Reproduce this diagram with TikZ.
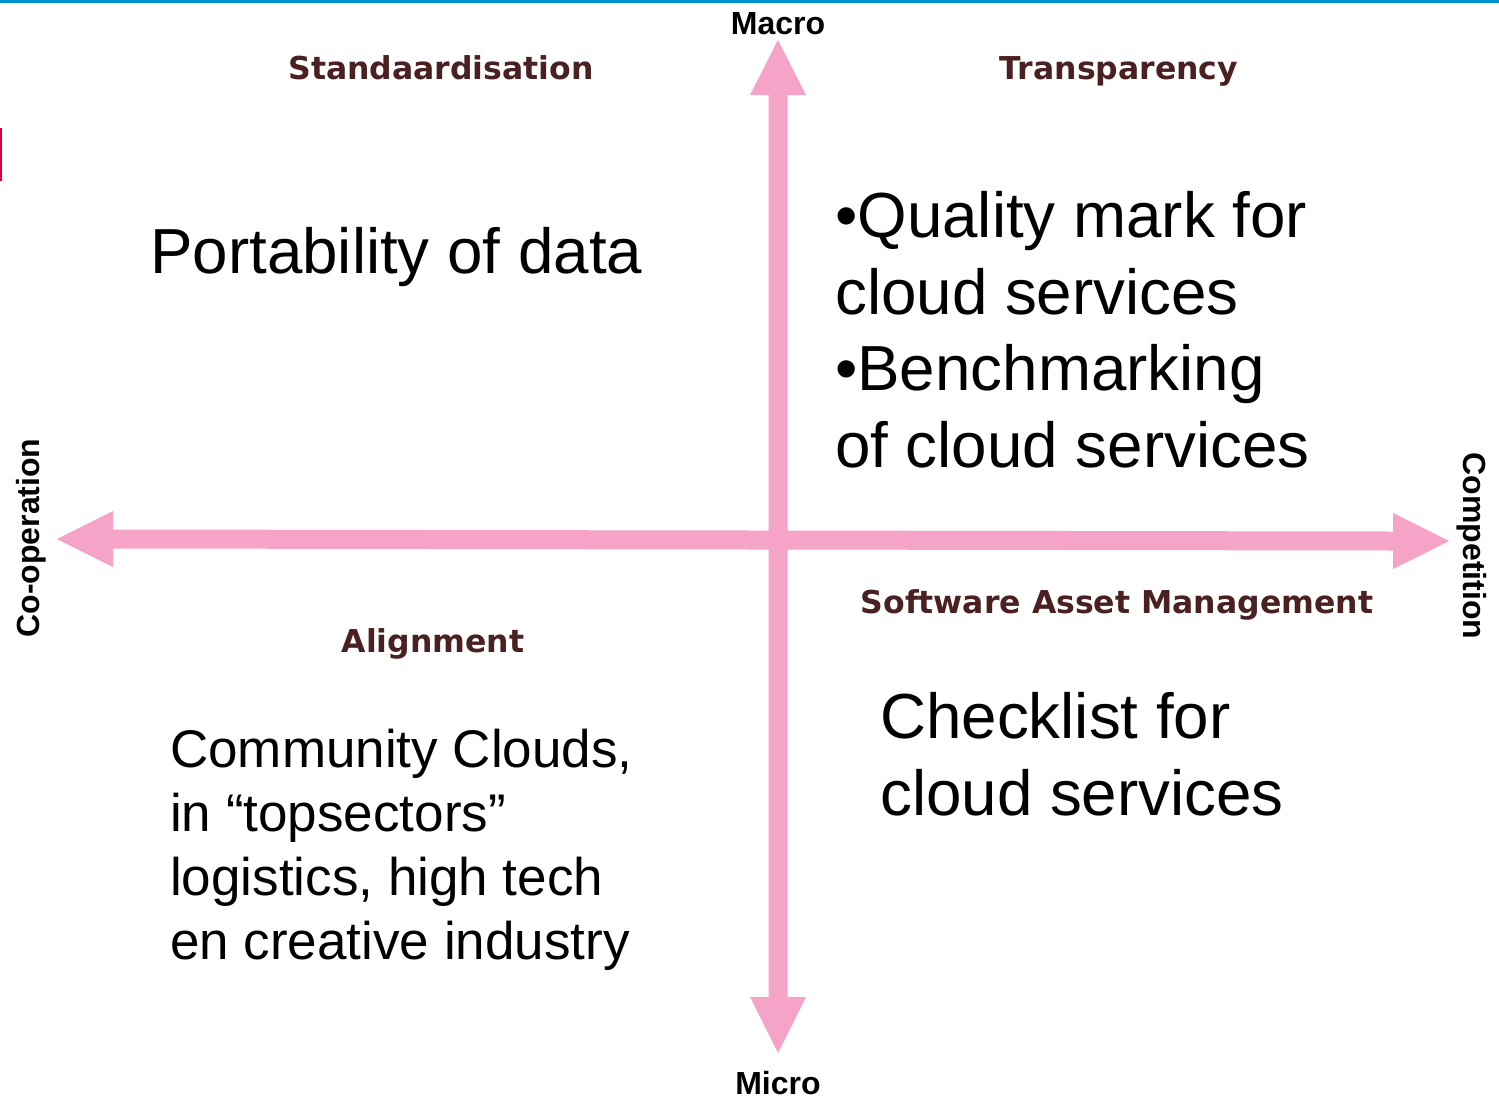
\documentclass[tikz,border=0pt]{standalone}
\usepackage{fontspec}
\setmainfont{Liberation Sans}
\newfontfamily\headfont{DejaVu Sans}
\definecolor{axispink}{RGB}{245,163,199}
\definecolor{headbrown}{RGB}{74,32,32}
\definecolor{topblue}{RGB}{0,146,210}
\definecolor{markred}{RGB}{218,0,60}
\begin{document}
\begin{tikzpicture}[x=1pt,y=-1pt,
  heading/.style={font=\headfont\bfseries\fontsize{31.5}{38}\selectfont, text=headbrown, inner sep=0pt, anchor=base},
  axislabel/.style={font=\bfseries\fontsize{32}{38}\selectfont, inner sep=0pt, anchor=base},
  bigtext/.style={font=\fontsize{63.7}{76.5}\selectfont, align=left, inner sep=0pt, anchor=base west},
  midtext/.style={font=\fontsize{53}{64}\selectfont, align=left, inner sep=0pt, anchor=base west}]
\useasboundingbox (0,0) rectangle (1499,1098);
\fill[white] (0,0) rectangle (1499,1098);
\fill[topblue] (0,0) rectangle (1499,3);
\fill[markred] (0,128) rectangle (2.3,181);
% axes
\coordinate (vtop) at (778,40);
\coordinate (vbot) at (778,1053);
\coordinate (hleft) at (57,539);
\coordinate (hright) at (1449,541);
\fill[axispink] (vtop) -- (806,95) -- (787.5,95) -- (787.5,997) -- (806,997) -- (vbot) -- (750,997) -- (768.5,997) -- (768.5,95) -- (750,95) -- cycle;
\fill[axispink] (hleft) -- (113,511) -- (113,529.5) -- (1393,531.5) -- (1393,513) -- (hright) -- (1393,569) -- (1393,550.5) -- (113,548.5) -- (113,567) -- cycle;
% axis labels
\node[axislabel] (macro) at (778,34) {Macro};
\node[axislabel] (micro) at (778,1094) {Micro};
\node[axislabel, rotate=90] (coop) at (39.5,538) {Co-operation};
\node[axislabel, rotate=-90] (comp) at (1463,546) {Competition};
% headings
\node[heading] (std) at (441,79) {Standaardisation};
\node[heading] (transp) at (1119,79) {Transparency};
\node[heading] (align) at (433,652) {Alignment};
\node[heading] (sam) at (1117,613) {Software Asset Management};
% texts (base anchor = baseline of last line)
\node[bigtext] (port) at (150,273) {Portability of data};
\node[bigtext] (qual) at (835,467) {•Quality mark for\\cloud services\\•Benchmarking\\of cloud services};
\node[midtext] (comm) at (170,959) {Community Clouds,\\in “topsectors”\\logistics, high tech\\en creative industry};
\node[bigtext] (check) at (880,815) {Checklist for\\cloud services};
\end{tikzpicture}
\end{document}
